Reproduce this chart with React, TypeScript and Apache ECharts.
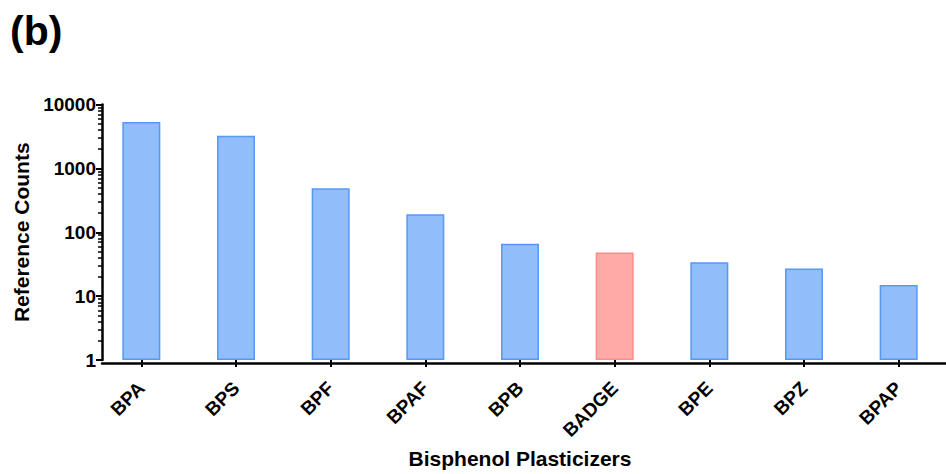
import React, { useEffect, useRef } from "react";
import * as echarts from "echarts";

const categories = ["BPA", "BPS", "BPF", "BPAF", "BPB", "BADGE", "BPE", "BPZ", "BPAP"];
const counts = [5300, 3250, 490, 192, 66, 48, 34, 27, 15];
const highlighted = ["BADGE"];
const majorTicks = [1, 10, 100, 1000, 10000];
const minorTicks = [
  2, 3, 4, 5, 6, 7, 8, 9,
  20, 30, 40, 50, 60, 70, 80, 90,
  200, 300, 400, 500, 600, 700, 800, 900,
  2000, 3000, 4000, 5000, 6000, 7000, 8000, 9000,
];

const FONT = "'Liberation Sans', Arial, Helvetica, sans-serif";
const BLUE_FILL = "#92bdfb";
const BLUE_BORDER = "#5599f5";
const RED_FILL = "#ffaaa7";
const RED_BORDER = "#ff8a8a";

export default function App() {
  const ref = useRef<HTMLDivElement>(null);
  useEffect(() => {
    if (!ref.current) return;
    const chart = echarts.init(ref.current, undefined, { renderer: "svg" });
    const top = 104.5;
    const bottom = 474 - 363.5;
    const minExp = Math.log10(majorTicks[0]);
    const maxExp = Math.log10(majorTicks[majorTicks.length - 1]);
    chart.setOption({
      animation: false,
      backgroundColor: "#ffffff",
      title: {
        text: "(b)",
        left: 5,
        top: 5,
        textStyle: { fontFamily: FONT, fontSize: 41, fontWeight: "bold", color: "#000" },
      },
      grid: [
        { left: 94, width: 864, top, bottom },
        { left: 102, right: 0, top, bottom },
      ],
      xAxis: [
        {
          type: "category",
          gridIndex: 0,
          data: categories,
          axisLine: { show: false },
          axisTick: { show: true, alignWithLabel: true, length: 7, lineStyle: { color: "#000", width: 2 } },
          axisLabel: {
            rotate: 45,
            margin: 25,
            interval: 0,
            fontFamily: FONT,
            fontSize: 19,
            fontWeight: "bold",
            color: "#000",
          },
          splitLine: { show: false },
          name: "Bisphenol Plasticizers",
          nameLocation: "middle",
          nameGap: 88,
          nameTextStyle: { fontFamily: FONT, fontSize: 21, fontWeight: "bold", color: "#000" },
        },
        {
          type: "value",
          gridIndex: 1,
          min: 0,
          max: 1,
          axisLine: { show: true, lineStyle: { color: "#000", width: 2.5 } },
          axisTick: { show: false },
          axisLabel: { show: false },
          splitLine: { show: false },
        },
      ],
      yAxis: [
        {
          type: "log",
          gridIndex: 0,
          logBase: 10,
          min: majorTicks[0],
          max: majorTicks[majorTicks.length - 1],
          offset: -8,
          axisLine: { show: true, lineStyle: { color: "#000", width: 2.5 } },
          axisTick: { show: true, length: 6, lineStyle: { color: "#000", width: 2 } },
          axisLabel: {
            margin: 6,
            fontFamily: FONT,
            fontSize: 19,
            fontWeight: "bold",
            color: "#000",
            formatter: (v: number) => String(Math.round(v)),
          },
          splitLine: { show: false },
          name: "Reference Counts",
          nameLocation: "middle",
          nameGap: 67,
          nameTextStyle: { fontFamily: FONT, fontSize: 21, fontWeight: "bold", color: "#000" },
        },
        {
          type: "value",
          gridIndex: 0,
          min: minExp,
          max: maxExp,
          offset: -8,
          position: "left",
          axisLine: { show: false },
          axisTick: {
            show: true,
            length: 4,
            customValues: minorTicks.map((t) => Math.log10(t)),
            lineStyle: { color: "#000", width: 1.5 },
          },
          axisLabel: { show: false },
          splitLine: { show: false },
        },
        {
          type: "value",
          gridIndex: 1,
          show: false,
        },
      ],
      series: [
        {
          type: "bar",
          xAxisIndex: 0,
          yAxisIndex: 0,
          barWidth: 38,
          data: categories.map((c, i) => {
            const hi = highlighted.includes(c);
            return {
              value: counts[i],
              itemStyle: {
                color: hi ? RED_FILL : BLUE_FILL,
                borderColor: hi ? RED_BORDER : BLUE_BORDER,
                borderWidth: 1.5,
              },
            };
          }),
        },
      ],
    });
    return () => chart.dispose();
  }, []);
  return (
    <div
      ref={ref}
      style={{ position: "fixed", left: 0, top: 0, width: 946, height: 474, background: "#fff" }}
    />
  );
}
